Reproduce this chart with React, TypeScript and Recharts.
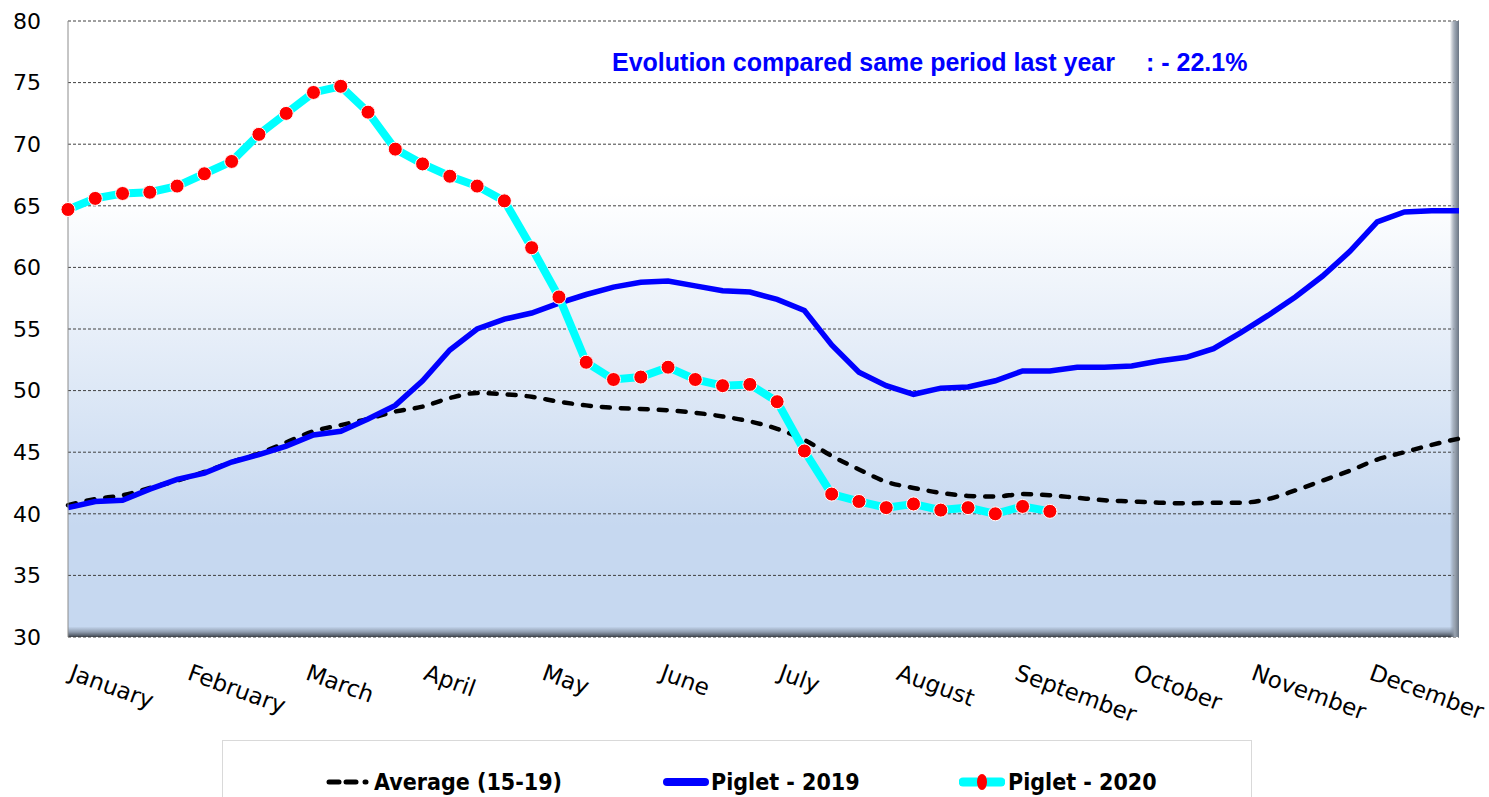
import React from 'react'
import { LineChart, Line, XAxis, YAxis, CartesianGrid, Legend } from 'recharts'

const months = [
  'January', 'February', 'March', 'April', 'May', 'June',
  'July', 'August', 'September', 'October', 'November', 'December',
]

const yTicks = [30, 35, 40, 45, 50, 55, 60, 65, 70, 75, 80]

// weekly prices, weeks 1..52
const average = [
  40.7, 41.2, 41.5, 42.1, 42.7, 43.4, 44.2, 44.9, 45.8, 46.7,
  47.2, 47.7, 48.3, 48.7, 49.4, 49.8, 49.7, 49.5, 49.1, 48.8,
  48.6, 48.5, 48.4, 48.2, 47.9, 47.5, 46.9, 46.0, 44.7, 43.6,
  42.6, 42.1, 41.7, 41.45, 41.4, 41.6, 41.5, 41.3, 41.1, 41.0,
  40.9, 40.85, 40.9, 40.9, 41.2, 41.9, 42.7, 43.5, 44.4, 45.0,
  45.6, 46.1,
]

const piglet2019 = [
  40.5, 41.0, 41.1, 42.0, 42.8, 43.3, 44.2, 44.8, 45.5, 46.4,
  46.7, 47.7, 48.8, 50.8, 53.3, 55.0, 55.8, 56.3, 57.1, 57.8,
  58.4, 58.8, 58.9, 58.5, 58.1, 58.0, 57.4, 56.5, 53.7, 51.5,
  50.4, 49.7, 50.2, 50.3, 50.8, 51.6, 51.6, 51.9, 51.9, 52.0,
  52.4, 52.7, 53.4, 54.7, 56.1, 57.6, 59.3, 61.3, 63.7, 64.5,
  64.6, 64.6,
]

const piglet2020 = [
  64.7, 65.6, 66.0, 66.1, 66.6, 67.6, 68.6, 70.8, 72.5, 74.2,
  74.7, 72.6, 69.6, 68.4, 67.4, 66.6, 65.4, 61.6, 57.6, 52.3,
  50.9, 51.1, 51.9, 50.9, 50.4, 50.5, 49.1, 45.1, 41.6, 41.0,
  40.5, 40.8, 40.3, 40.5, 40.0, 40.6, 40.2,
]

const weeks = average.map((_, i) => i + 1)

const data = weeks.map((week, i) => ({
  week,
  average: average[i],
  p2019: piglet2019[i],
  p2020: i < piglet2020.length ? piglet2020[i] : null,
}))

const monthTicks = months.map((_, m) => 1 + (m * weeks.length) / 12)

const MonthTick = (props: any) => {
  const { x, y, index } = props
  return (
    <g transform={`translate(${x},${y + 34})`}>
      <text
        transform="rotate(20)"
        textAnchor="start"
        fontFamily="DejaVu Sans"
        fontSize={23}
        fill="#000"
      >
        {months[index]}
      </text>
    </g>
  )
}

const legendFont = {
  fontFamily: "'DejaVu Sans Condensed', sans-serif",
  fontWeight: 700,
  fontSize: 23,
  color: '#000',
  lineHeight: '26px',
}

const ChartLegend = () => (
  <div
    style={{
      position: 'relative',
      height: 56,
      borderTop: '1px solid #d9d9d9',
      borderLeft: '1px solid #d9d9d9',
      borderRight: '1px solid #d9d9d9',
      boxSizing: 'content-box',
    }}
  >
    <div style={{ position: 'absolute', left: 103, top: 28, display: 'flex', alignItems: 'center' }}>
      <svg width={46} height={20}>
        <line x1={3} y1={10} x2={13} y2={10} stroke="#000" strokeWidth={5} strokeLinecap="round" />
        <line x1={20} y1={10} x2={30} y2={10} stroke="#000" strokeWidth={5} strokeLinecap="round" />
        <line x1={39} y1={10} x2={40} y2={10} stroke="#000" strokeWidth={5} strokeLinecap="round" />
      </svg>
      <span style={{ ...legendFont, marginLeft: 2 }}>Average (15-19)</span>
    </div>
    <div style={{ position: 'absolute', left: 440, top: 28, display: 'flex', alignItems: 'center' }}>
      <svg width={46} height={20}>
        <line x1={4} y1={10} x2={42} y2={10} stroke="#0000FF" strokeWidth={8} strokeLinecap="round" />
      </svg>
      <span style={{ ...legendFont, marginLeft: 2 }}>Piglet - 2019</span>
    </div>
    <div style={{ position: 'absolute', left: 736, top: 28, display: 'flex', alignItems: 'center' }}>
      <svg width={46} height={20}>
        <line x1={4} y1={10} x2={42} y2={10} stroke="#00FFFF" strokeWidth={9} strokeLinecap="round" />
        <ellipse cx={23} cy={10} rx={5} ry={8} fill="#FF0000" />
      </svg>
      <span style={{ ...legendFont, marginLeft: 3 }}>Piglet - 2020</span>
    </div>
  </div>
)

export default function App() {
  return (
    <div style={{ position: 'absolute', left: 0, top: 0, width: 1489, height: 797, background: '#fff' }}>
      <LineChart
        width={1489}
        height={797}
        data={data}
        margin={{ top: 21, right: 30, left: 8, bottom: 0 }}
      >
        <defs>
          <linearGradient id="plotBg" x1="0" y1="0" x2="0" y2="1">
            <stop offset="0" stopColor="#FFFFFF" />
            <stop offset="0.28" stopColor="#FFFFFF" />
            <stop offset="0.82" stopColor="#C6D8F0" />
            <stop offset="0.983" stopColor="#C6D8F0" />
            <stop offset="0.992" stopColor="#8F9CAE" />
            <stop offset="1" stopColor="#3F4650" />
          </linearGradient>
          <linearGradient id="rightShadow" x1="0" y1="0" x2="1" y2="0">
            <stop offset="0" stopColor="#7A8594" stopOpacity={0} />
            <stop offset="0.9935" stopColor="#7A8594" stopOpacity={0} />
            <stop offset="0.997" stopColor="#9AA4B1" stopOpacity={1} />
            <stop offset="1" stopColor="#6A7583" stopOpacity={1} />
          </linearGradient>
        </defs>
        <CartesianGrid
          vertical={false}
          fill="url(#plotBg)"
          stroke="#404040"
          strokeDasharray="3 2"
        />
        <CartesianGrid vertical={false} horizontal={false} fill="url(#rightShadow)" />
        <XAxis
          dataKey="week"
          type="number"
          domain={[1, weeks.length]}
          ticks={monthTicks}
          tick={<MonthTick />}
          interval={0}
          axisLine={false}
          tickLine={false}
          height={103}
        />
        <YAxis
          type="number"
          domain={[30, 80]}
          ticks={yTicks}
          interval={0}
          width={60}
          axisLine={{ stroke: '#8C8C8C' }}
          tickLine={false}
          tickMargin={21}
          tick={{ fontFamily: 'DejaVu Sans', fontSize: 22, fill: '#000' }}
        />
        <Legend
          verticalAlign="bottom"
          align="left"
          content={<ChartLegend />}
          wrapperStyle={{ left: 222, width: 1030, bottom: 0 }}
        />
        <Line
          type="monotone"
          dataKey="average"
          name="Average (15-19)"
          stroke="#000"
          strokeWidth={4.5}
          strokeDasharray="8 11"
          strokeLinecap="round"
          dot={false}
          isAnimationActive={false}
        />
        <Line
          type="linear"
          dataKey="p2019"
          name="Piglet - 2019"
          stroke="#0000FF"
          strokeWidth={5.5}
          dot={false}
          isAnimationActive={false}
        />
        <Line
          type="linear"
          dataKey="p2020"
          name="Piglet - 2020"
          stroke="#00FFFF"
          strokeWidth={8}
          dot={{ r: 7, fill: '#FF0000', stroke: '#FFFFFF', strokeWidth: 1 }}
          isAnimationActive={false}
        />
        <text
          x={612}
          y={71}
          fill="#0000FF"
          fontFamily="'Liberation Sans', Arial, sans-serif"
          fontWeight="bold"
          fontSize={25}
        >
          Evolution compared same period last year
        </text>
        <text
          x={1146}
          y={71}
          fill="#0000FF"
          fontFamily="'Liberation Sans', Arial, sans-serif"
          fontWeight="bold"
          fontSize={25}
        >
          : - 22.1%
        </text>
      </LineChart>
    </div>
  )
}
